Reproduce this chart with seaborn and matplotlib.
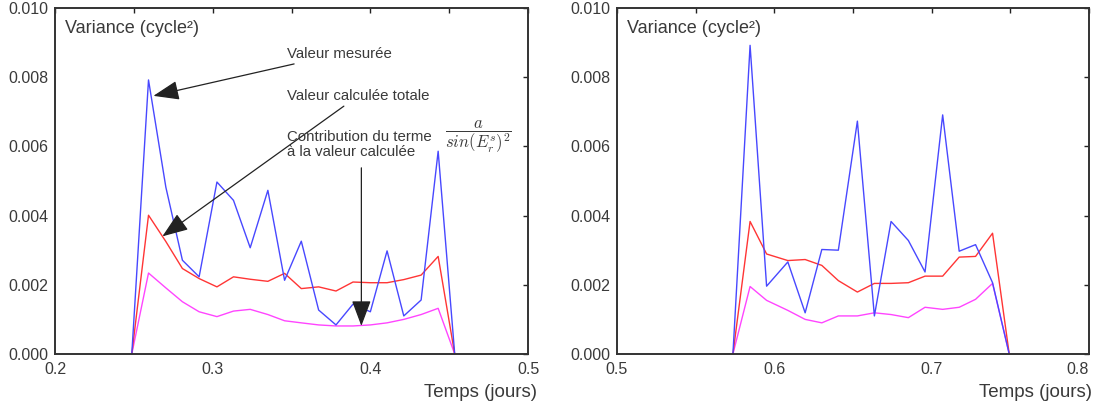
import matplotlib
matplotlib.use("Agg")
import matplotlib.pyplot as plt
import seaborn as sns
import pandas as pd
from matplotlib.ticker import MultipleLocator, FormatStrFormatter

# ---------------- data ----------------
t_left = [0.2487, 0.2593, 0.2703, 0.2808, 0.2914, 0.3027, 0.3132, 0.3238, 0.3350, 0.3456,
          0.3562, 0.3672, 0.3782, 0.3890, 0.4000, 0.4106, 0.4212, 0.4322, 0.4430, 0.4535]
mesure_left = [0.0, 0.00792, 0.00482, 0.00271, 0.00223, 0.00497, 0.00444, 0.00307, 0.00473, 0.00213,
               0.00326, 0.00127, 0.00084, 0.00144, 0.00122, 0.00298, 0.00110, 0.00156, 0.00586, 0.0]
total_left = [0.0, 0.00401, 0.00325, 0.00247, 0.00218, 0.00194, 0.00223, 0.00216, 0.00210, 0.00233,
              0.00189, 0.00194, 0.00182, 0.00208, 0.00206, 0.00206, 0.00215, 0.00228, 0.00282, 0.0]
contrib_left = [0.0, 0.00234, 0.00191, 0.00151, 0.00122, 0.00108, 0.00124, 0.00129, 0.00114, 0.00096,
                0.00090, 0.00084, 0.00081, 0.00081, 0.00084, 0.00090, 0.00100, 0.00114, 0.00132, 0.0]

t_right = [0.5737, 0.5846, 0.5951, 0.6086, 0.6196, 0.6302, 0.6407, 0.6528, 0.6636, 0.6742,
           0.6852, 0.6958, 0.7070, 0.7175, 0.7279, 0.7387, 0.7493]
mesure_right = [0.0, 0.00892, 0.00196, 0.00266, 0.00119, 0.00302, 0.00300, 0.00673, 0.00110, 0.00383,
                0.00328, 0.00237, 0.00691, 0.00297, 0.00316, 0.00206, 0.0]
total_right = [0.0, 0.00383, 0.00289, 0.00270, 0.00273, 0.00256, 0.00212, 0.00179, 0.00204, 0.00204,
               0.00206, 0.00225, 0.00225, 0.00280, 0.00282, 0.00349, 0.0]
contrib_right = [0.0, 0.00195, 0.00155, 0.00126, 0.00100, 0.00090, 0.00110, 0.00110, 0.00119, 0.00114,
                 0.00105, 0.00135, 0.00129, 0.00135, 0.00158, 0.00204, 0.0]

series_names = ["mesure", "total", "contrib"]
series_colors = {"mesure": "#4848ff", "total": "#ff3535", "contrib": "#ff45ff"}

x_ticks_left = [0.2, 0.3, 0.4, 0.5]
x_ticks_right = [0.5, 0.6, 0.7, 0.8]
y_title = "Variance (cycle²)"
x_title = "Temps (jours)"
ann_mesure = "Valeur mesurée"
ann_total = "Valeur calculée totale"
ann_contrib = "Contribution du terme\nà la valeur calculée"
ann_formula = r"$\dfrac{a}{sin(E_r^s)^2}$"

# ---------------- style ----------------
sns.set_style("white")
plt.rcParams["font.family"] = ["Liberation Sans", "DejaVu Sans"]
plt.rcParams["mathtext.fontset"] = "cm"
txt_color = "#3a3a3a"


def long_df(t, m, tot, c):
    frames = []
    for name, vals in zip(series_names, [m, tot, c]):
        frames.append(pd.DataFrame({"t": t, "v": vals, "serie": name}))
    return pd.concat(frames, ignore_index=True)


df_left = long_df(t_left, mesure_left, total_left, contrib_left)
df_right = long_df(t_right, mesure_right, total_right, contrib_right)

fig = plt.figure(figsize=(10.98, 4.09), dpi=100)
ax1 = fig.add_axes([0.0501, 0.1345, 0.4308, 0.846])
ax2 = fig.add_axes([0.5619, 0.1345, 0.4299, 0.846])

for ax, df, xt in [(ax1, df_left, x_ticks_left), (ax2, df_right, x_ticks_right)]:
    sns.lineplot(data=df, x="t", y="v", hue="serie", hue_order=series_names[::-1],
                 palette=series_colors, estimator=None, sort=False, legend=False,
                 linewidth=1.0, ax=ax)
    ax.set_xlim(xt[0], xt[-1])
    ax.set_ylim(0, 0.010)
    ax.set_xticks(xt)
    ax.xaxis.set_minor_locator(MultipleLocator(0.05))
    ax.yaxis.set_major_locator(MultipleLocator(0.002))
    ax.xaxis.set_major_formatter(FormatStrFormatter("%.1f"))
    ax.yaxis.set_major_formatter(FormatStrFormatter("%.3f"))
    ax.tick_params(which="both", direction="in", top=True, right=True, length=3.5, width=1,
                   color="#222222", labelcolor=txt_color, labelsize=11.5)
    ax.tick_params(axis="x", pad=6)
    ax.tick_params(axis="y", pad=5)
    ax.set_xlabel("")
    ax.set_ylabel("")
    for sp in ax.spines.values():
        sp.set_color("#333333")
        sp.set_linewidth(1.4)
    ax.text(0.022, 0.94, y_title, transform=ax.transAxes, fontsize=13, color=txt_color,
            ha="left", va="center")
    ax.text(1.0 + (0.019 if ax is ax1 else 0.006), -0.112, x_title, transform=ax.transAxes,
            fontsize=13.5, color=txt_color, ha="right", va="center")

# keep the last label of the right panel inside the figure, as in the reference
fig.canvas.draw()
ax2.get_xticklabels()[-1].set_horizontalalignment("right")

arrow_kw = dict(arrowstyle="-|>,head_length=1.6,head_width=0.6", color="#222222",
                lw=0.9, mutation_scale=10, shrinkA=0, shrinkB=0)

ax1.annotate(ann_mesure, xy=(0.2624, 0.00746), xytext=(0.3471, 0.00868),
             fontsize=10.8, color=txt_color, ha="left", va="center", arrowprops=arrow_kw)
ax1.annotate(ann_total, xy=(0.2681, 0.00340), xytext=(0.3471, 0.00746),
             fontsize=10.8, color=txt_color, ha="left", va="center", arrowprops=arrow_kw)
ax1.annotate("", xy=(0.3943, 0.00081), xytext=(0.3943, 0.00538), arrowprops=arrow_kw)
ax1.text(0.3471, 0.00606, ann_contrib, fontsize=10.8, color=txt_color, ha="left",
         va="center", linespacing=1.12)
ax1.text(0.4685, 0.00628, ann_formula, fontsize=12, color=txt_color, ha="center", va="center")

fig.savefig("out.png", dpi=100)
